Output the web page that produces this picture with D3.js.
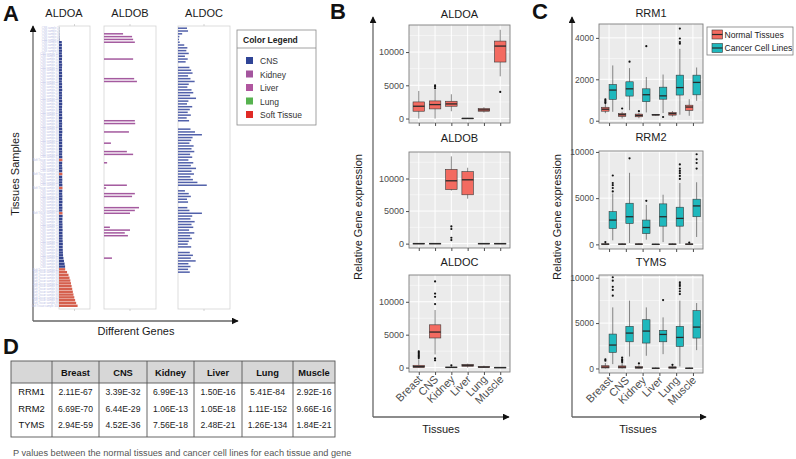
<!DOCTYPE html>
<html>
<head>
<meta charset="utf-8">
<script src="https://cdn.jsdelivr.net/npm/d3@7"></script>
<style>
  body { margin: 0; background: #fff; }
  svg { font-family: "Liberation Sans", Arial, sans-serif; }
</style>
</head>
<body>
<svg id="fig" width="796" height="459"></svg>
<script>
// ===================== DATA =====================

const tissues = ["Breast", "CNS", "Kidney", "Liver", "Lung", "Muscle"];

// Panel A: expression per sample row (sorted on ALDOA)
const aldoaValues = [
  80, 100, 120, 150, 200,
  1350, 1420, 1380, 1460, 1400, 1500, 1440, 1380, 1520, 1460,
  1410, 1480, 1530, 1450, 1390, 1500, 1470, 1550, 1420, 1490,
  1440, 1510, 1560, 1480, 1430, 1520, 1500, 1570, 1460, 1530,
  1480, 1550, 1600, 1510, 1470, 1560, 1530, 1590, 1500, 1570,
  1520, 1600, 1640, 1550, 1510, 1590, 1570, 1630, 1540, 1610,
  1560, 1640, 1680, 1600, 1560, 1650, 1620, 1680, 1590, 1660,
  1620, 1700, 1740, 1660, 1630, 1710, 1690, 1760, 1680, 1750,
  1730, 1800, 1850, 1790, 1840, 1900, 1960,
  2150, 2400, 2700, 2950,
  3000, 3900, 4600, 5100, 5500, 5800, 6100, 6400, 6700, 7000, 7400, 7800, 8300, 9000
];
const aldoaSoftTissueRows = [47, 52, 57, 66, 86, 87, 88, 89, 90, 91, 92, 93, 94, 95, 96, 97, 98, 99];

const aldobRows   = [2, 3, 4, 5, 11, 18, 19, 33, 34, 37, 41, 44, 45, 48, 56, 57, 59, 60, 64, 65, 66, 71, 72, 73, 74, 82];
const aldobValues = [5500, 8100, 8400, 8900, 8400, 8700, 9500, 8900, 9000, 7200, 2000, 6600, 8400, 900, 6600, 600,
                     8900, 8100, 10100, 8900, 7500, 1700, 7500, 6000, 6900, 2300];

const aldocValues = [
  2600, 2900, 1200, 400, 300, 500, 1800, 2700, 2400, 3100,
  2000, 2800, 2200, 0,
  3300, 3800, 4200, 2900, 3600, 4800, 3100, 2700, 3900, 4400,
  3500, 5200, 3000, 2600, 4100, 3400, 2800, 3700, 2500, 3200,
  0, 0,
  3600, 4900, 6900, 4200, 3800, 3300, 4500, 3900, 4700, 3500,
  4100, 3000, 4400, 3700, 5200, 3900, 4600, 3600, 4300, 5600, 8300,
  0, 2000,
  3100, 3700, 2600, 2900, 0,
  2700, 3300, 6900, 4100, 3600, 4800, 3900, 4400, 3200, 4700,
  3500, 4000, 3100, 2800, 3800, 0,
  3400, 4300, 3700, 5100, 3000, 3600, 2900, 3400,
  0, 0, 0, 0, 0, 0, 0, 0, 0, 0, 0, 0
];

const legendTissues = ["CNS", "Kidney", "Liver", "Lung", "Soft Tissue"];
const legendColors  = ["#2f4496", "#a4559e", "#b0569f", "#56b24f", "#e02a26"];

// Panel B and C: box statistics [low whisker, q1, median, q3, high whisker]
const aldoaStats = [[0, 1100, 1850, 2500, 4150], [0, 1450, 2100, 2650, 4300], [1100, 1850, 2200, 2600, 3650],
                    [0, 0, 20, 50, 100], [900, 1100, 1300, 1500, 1700], [6350, 8500, 10900, 11650, 13350]];
const aldoaOutliers = [[], [4550, 4800, 5000], [], [], [], [4000]];

const aldobStats = [[0, 0, 10, 30, 60], [0, 0, 10, 30, 60], [8150, 8300, 9650, 11400, 13400],
                    [6900, 7500, 9800, 11050, 11650], [0, 0, 10, 30, 60], [0, 0, 10, 30, 60]];
const aldobOutliers = [[], [], [550, 900, 2250, 2650], [], [], []];

const aldocStats = [[0, 0, 150, 350, 1250], [2000, 4500, 5400, 6500, 8750], [0, 0, 30, 80, 200],
                    [0, 200, 350, 450, 600], [0, 20, 80, 150, 300], [0, 0, 10, 30, 60]];
const aldocOutliers = [[1450, 1650, 1850, 2050, 2250, 2450], [1100, 1400, 9650, 10750, 11250, 13100], [350], [], [], []];

const rrm1NormalStats = [[365, 460, 556, 650, 800], [110, 210, 290, 350, 430], [120, 190, 255, 320, 380],
                         [250, 270, 285, 300, 320], [200, 270, 340, 400, 465], [240, 500, 660, 750, 1040]];
const rrm1NormalOutliers = [[850, 900, 960, 1030], [590], [460], [], [], []];
const rrm1CancerStats = [[430, 1030, 1480, 1750, 2670], [510, 1190, 1540, 1880, 2540], [400, 920, 1255, 1540, 2110],
                         [370, 1040, 1200, 1620, 2230], [290, 1240, 1600, 2200, 3470], [960, 1250, 1850, 2200, 2570]];
const rrm1CancerOutliers = [[], [2850], [3600], [180], [3720, 3800, 3970, 4450], []];

const rrm2NormalStats = [[0, 0, 20, 60, 150], [0, 0, 20, 50, 120], [0, 0, 20, 60, 130],
                         [0, 0, 10, 30, 60], [0, 0, 20, 50, 100], [0, 0, 20, 50, 120]];
const rrm2NormalOutliers = [[250], [], [], [], [], [200]];
const rrm2CancerStats = [[440, 1720, 2630, 3540, 5500], [150, 2260, 2990, 4450, 7740], [510, 1170, 1825, 2630, 4270],
                         [250, 1970, 2990, 4380, 5370], [70, 1970, 2810, 4020, 6640], [800, 2990, 4160, 4890, 6720]];
const rrm2CancerOutliers = [[5730, 6100, 6400, 6640, 7450], [9310], [4710], [], [7080, 7400, 7700, 7950, 8200, 8650],
                            [8200, 8800, 9200, 9750]];

const tymsNormalStats = [[0, 50, 150, 300, 600], [0, 50, 150, 280, 600], [0, 30, 100, 200, 350],
                         [0, 0, 20, 50, 100], [0, 30, 100, 180, 300], [0, 0, 20, 50, 100]];
const tymsNormalOutliers = [[850, 1000], [700, 850, 1000, 1200], [550], [], [400], []];
const tymsCancerStats = [[480, 1770, 2580, 3790, 6730], [1320, 2940, 3900, 4640, 7470], [1400, 2800, 4120, 5370, 6730],
                         [1580, 2940, 3750, 4200, 5630], [220, 2430, 3420, 4640, 7470], [2020, 3350, 4560, 6370, 7210]];
const tymsCancerOutliers = [[8020, 8650, 9000, 9680, 10050], [], [], [7540], [8200, 8500, 8800, 9100, 9300, 9500], []];

// Panel D: p values
const pvalGenes = ["RRM1", "RRM2", "TYMS"];
const pvalRRM1 = ["2.11E-67", "3.39E-32", "6.99E-13", "1.50E-16", "5.41E-84", "2.92E-16"];
const pvalRRM2 = ["6.69E-70", "6.44E-29", "1.06E-13", "1.05E-18", "1.11E-152", "9.66E-16"];
const pvalTYMS = ["2.94E-59", "4.52E-36", "7.56E-18", "2.48E-21", "1.26E-134", "1.84E-21"];

// ===================== SETUP =====================

const svg = d3.select('#fig');
const RED = '#f36b61';
const TEAL = '#1fb8bd';

svg.append('defs').append('marker')
  .attr('id', 'arrowhead').attr('viewBox', '0 0 10 10')
  .attr('refX', 9).attr('refY', 5)
  .attr('markerWidth', 7).attr('markerHeight', 7)
  .attr('markerUnits', 'userSpaceOnUse').attr('orient', 'auto')
  .append('path').attr('d', 'M0,0L10,5L0,10z').attr('fill', '#111');

function arrowAxes(cx, cy, top, right) {
  [[cx, cy, cx, top], [cx, cy, right, cy]].forEach(([x1, y1, x2, y2]) => {
    svg.append('line').attr('x1', x1).attr('y1', y1).attr('x2', x2).attr('y2', y2)
      .attr('stroke', '#666').attr('stroke-width', 1.3).attr('marker-end', 'url(#arrowhead)');
  });
}

function label(text, x, y, opts = {}) {
  const t = svg.append('text').attr('x', x).attr('y', y).text(text)
    .attr('font-size', opts.size || 11)
    .attr('fill', opts.fill || '#1a1a1a')
    .attr('text-anchor', opts.anchor || 'middle');
  if (opts.bold) t.attr('font-weight', 'bold');
  if (opts.rotate) t.attr('transform', `rotate(${opts.rotate},${x},${y})`);
  return t;
}

// ===================== PANEL A =====================

label('A', 3, 21, { size: 22, bold: true, anchor: 'start', fill: '#111' });
arrowAxes(33, 321, 26, 238);
label('Tissues Samples', 19, 174, { rotate: -90 });
label('Different Genes', 136, 335);

const rowY = d3.scaleBand().domain(d3.range(aldoaValues.length)).range([27, 307]).paddingInner(0.14);

function strip(x0, x1, title, rows, values, colorOf, thin) {
  const x = d3.scaleLinear().domain([0, 15000]).range([x0, x1]);
  label(title, (title === 'ALDOA' ? 64 : (x0 + x1) / 2), 17);
  svg.append('rect').attr('x', x0).attr('y', 26).attr('width', x1 - x0).attr('height', 283)
    .attr('fill', 'none').attr('stroke', '#d4d4d4').attr('stroke-width', 0.8);
  [26, 309].forEach((yy, k) => {
    svg.append('line').attr('x1', x(7500)).attr('x2', x(7500))
      .attr('y1', yy).attr('y2', k ? yy + 2 : yy - 2).attr('stroke', '#bbb').attr('stroke-width', 0.6);
  });
  const bh = thin ? 1.5 : rowY.bandwidth();
  svg.append('g').selectAll('rect')
    .data(rows.map((r, i) => ({ r, v: values[i] })).filter(d => d.v > 0))
    .join('rect')
    .attr('x', x0)
    .attr('y', d => rowY(d.r) + (rowY.bandwidth() - bh) / 2)
    .attr('width', d => x(d.v) - x0)
    .attr('height', bh)
    .attr('fill', d => colorOf(d.r));
}

// faint sample names left of the ALDOA strip
svg.append('g').selectAll('text')
  .data(aldoaValues.map((v, i) => i))
  .join('text')
  .attr('x', 58.5)
  .attr('y', i => rowY(i) + rowY.bandwidth())
  .attr('text-anchor', 'end')
  .attr('font-size', 2.6)
  .attr('fill', '#b9bde6')
  .text(i => (aldoaSoftTissueRows.includes(i) ? 'Soft Tissue sample ' : 'CNS sample ') + (i + 1));

strip(59, 90, 'ALDOA', d3.range(aldoaValues.length), aldoaValues,
  r => aldoaSoftTissueRows.includes(r) ? '#d5604e' : '#34448f', false);
strip(104, 156, 'ALDOB', aldobRows, aldobValues, () => '#a45a9f', true);
strip(178, 230, 'ALDOC', d3.range(aldocValues.length), aldocValues, () => '#5261aa', true);

// colour legend
const lg = svg.append('g');
lg.append('rect').attr('x', 237).attr('y', 30).attr('width', 79).attr('height', 95)
  .attr('fill', '#fff').attr('stroke', '#8a8a8a').attr('stroke-width', 0.8);
lg.append('line').attr('x1', 237).attr('x2', 316).attr('y1', 48).attr('y2', 48)
  .attr('stroke', '#8a8a8a').attr('stroke-width', 0.8);
lg.append('text').attr('x', 243).attr('y', 43).attr('font-size', 8.5).attr('font-weight', 'bold')
  .attr('fill', '#222').text('Color Legend');
legendTissues.forEach((t, i) => {
  const yy = 61 + i * 13.5;
  lg.append('rect').attr('x', 246).attr('y', yy - 4).attr('width', 7).attr('height', 7).attr('fill', legendColors[i]);
  lg.append('text').attr('x', 260).attr('y', yy + 3).attr('font-size', 8.5).attr('fill', '#333').text(t);
});

// ===================== PANELS B & C =====================

function boxPanel(o) {
  const g = svg.append('g');
  const x = d3.scalePoint().domain(tissues).range([o.x0, o.x1]).padding(0.6);
  const y = d3.scaleLinear().domain(o.domain).range([o.y1, o.y0]);
  const w = o.x1 - o.x0, h = o.y1 - o.y0;

  label(o.title, (o.x0 + o.x1) / 2, o.titleY);

  g.append('rect').attr('x', o.x0).attr('y', o.y0).attr('width', w).attr('height', h).attr('fill', '#ebebeb');

  const step = o.ticks[1] - o.ticks[0];
  const minors = d3.range(o.ticks[0] - step / 2, o.domain[1], step).filter(v => v > o.domain[0]);
  g.selectAll('.minor').data(minors).join('line')
    .attr('x1', o.x0).attr('x2', o.x1).attr('y1', d => y(d)).attr('y2', d => y(d))
    .attr('stroke', '#fff').attr('stroke-width', 0.5);
  g.selectAll('.major').data(o.ticks).join('line')
    .attr('x1', o.x0).attr('x2', o.x1).attr('y1', d => y(d)).attr('y2', d => y(d))
    .attr('stroke', '#fff').attr('stroke-width', 1);
  g.selectAll('.vgrid').data(tissues).join('line')
    .attr('x1', d => x(d)).attr('x2', d => x(d)).attr('y1', o.y0).attr('y2', o.y1)
    .attr('stroke', '#fff').attr('stroke-width', 1);

  o.series.forEach(s => {
    const bw = s.width;
    const box = g.append('g').selectAll('g').data(s.stats).join('g')
      .attr('transform', (d, i) => `translate(${x(tissues[i]) + s.offset},0)`);
    box.append('line').attr('y1', d => y(d[0])).attr('y2', d => y(d[4]))
      .attr('stroke', '#3a3a3a').attr('stroke-width', 0.6);
    box.append('rect').attr('x', -bw / 2).attr('width', bw)
      .attr('y', d => y(d[3]))
      .attr('height', d => Math.max(y(d[1]) - y(d[3]), 0.6))
      .attr('fill', s.color).attr('stroke', '#3a3a3a').attr('stroke-width', 0.6);
    box.append('line').attr('x1', -bw / 2).attr('x2', bw / 2)
      .attr('y1', d => y(d[2])).attr('y2', d => y(d[2]))
      .attr('stroke', '#2a2a2a').attr('stroke-width', 1.3);
    box.each(function (d, i) {
      d3.select(this).selectAll('circle').data(s.outliers[i]).join('circle')
        .attr('cx', 0).attr('cy', v => y(v)).attr('r', 1.1).attr('fill', '#111');
    });
  });

  g.append('rect').attr('x', o.x0).attr('y', o.y0).attr('width', w).attr('height', h)
    .attr('fill', 'none').attr('stroke', '#7d7d7d').attr('stroke-width', 0.9);

  const ya = g.append('g').attr('transform', `translate(${o.x0},0)`)
    .call(d3.axisLeft(y).tickValues(o.ticks).tickSize(3).tickPadding(2).tickFormat(d3.format('d')));
  ya.select('.domain').remove();
  ya.selectAll('line').attr('stroke', '#4d4d4d');
  ya.selectAll('text').attr('font-size', o.tickSize).attr('fill', '#4d4d4d')
    .attr('font-family', '"Liberation Sans", Arial, sans-serif');

  const xa = g.append('g').attr('transform', `translate(0,${o.y1})`)
    .call(d3.axisBottom(x).tickSize(3).tickFormat(''));
  xa.select('.domain').remove();
  xa.selectAll('line').attr('stroke', '#4d4d4d');

  if (o.showX) {
    g.selectAll('.xlab').data(tissues).join('text')
      .attr('text-anchor', 'end')
      .attr('font-size', 11).attr('fill', '#4d4d4d')
      .attr('transform', d => `translate(${x(d) + 4},${o.y1 + 8}) rotate(-45)`)
      .text(d => d);
  }
}

// Panel B
label('B', 330, 19, { size: 22, bold: true, anchor: 'start', fill: '#111' });
arrowAxes(373, 417, 17, 509);
label('Relative Gene expression', 362, 217, { rotate: -90 });
label('Tissues', 441, 433);

const bDomain = [-670, 14070];
const bTicks = [0, 5000, 10000];
const redSeries = (stats, outliers) => [{ stats, outliers, color: RED, offset: 0, width: 11.5 }];
boxPanel({ title: 'ALDOA', titleY: 18, x0: 409, x1: 510, y0: 25, y1: 123, domain: bDomain, ticks: bTicks,
  tickSize: 9, series: redSeries(aldoaStats, aldoaOutliers) });
boxPanel({ title: 'ALDOB', titleY: 142, x0: 409, x1: 510, y0: 152, y1: 248, domain: bDomain, ticks: bTicks,
  tickSize: 9, series: redSeries(aldobStats, aldobOutliers) });
boxPanel({ title: 'ALDOC', titleY: 266, x0: 409, x1: 510, y0: 275, y1: 372, domain: bDomain, ticks: bTicks,
  tickSize: 9, series: redSeries(aldocStats, aldocOutliers), showX: true });

// Panel C
label('C', 532, 19, { size: 22, bold: true, anchor: 'start', fill: '#111' });
arrowAxes(572, 417, 17, 706);
label('Relative Gene expression', 561, 217, { rotate: -90 });
label('Tissues', 638, 433);

const pair = (ns, no, cs, co) => [
  { stats: ns, outliers: no, color: RED, offset: -3.7, width: 7.4 },
  { stats: cs, outliers: co, color: TEAL, offset: 3.7, width: 7.4 }
];
boxPanel({ title: 'RRM1', titleY: 17, x0: 599, x1: 703, y0: 24, y1: 123, domain: [-110, 4670], ticks: [0, 2000, 4000],
  tickSize: 8.5, series: pair(rrm1NormalStats, rrm1NormalOutliers, rrm1CancerStats, rrm1CancerOutliers) });
boxPanel({ title: 'RRM2', titleY: 141, x0: 599, x1: 703, y0: 151, y1: 249, domain: [-500, 10100], ticks: [0, 5000, 10000],
  tickSize: 8.5, series: pair(rrm2NormalStats, rrm2NormalOutliers, rrm2CancerStats, rrm2CancerOutliers) });
boxPanel({ title: 'TYMS', titleY: 266, x0: 599, x1: 703, y0: 275, y1: 373, domain: [-500, 10300], ticks: [0, 5000, 10000],
  tickSize: 8.5, series: pair(tymsNormalStats, tymsNormalOutliers, tymsCancerStats, tymsCancerOutliers), showX: true });

// legend of panel C
const cl = svg.append('g');
cl.append('rect').attr('x', 707).attr('y', 27).attr('width', 86).attr('height', 28)
  .attr('fill', '#fff').attr('stroke', '#7d7d7d').attr('stroke-width', 0.8);
[['Normal Tissues', RED], ['Cancer Cell Lines', TEAL]].forEach(([name, col], i) => {
  const yy = 34.5 + i * 13.5;
  cl.append('rect').attr('x', 712).attr('y', yy - 4.5).attr('width', 10.5).attr('height', 9)
    .attr('fill', col).attr('stroke', '#3a3a3a').attr('stroke-width', 0.6);
  cl.append('line').attr('x1', 712).attr('x2', 722.5).attr('y1', yy).attr('y2', yy)
    .attr('stroke', '#2a2a2a').attr('stroke-width', 1.2);
  cl.append('text').attr('x', 724.5).attr('y', yy + 3).attr('font-size', 8.6).attr('fill', '#222').text(name);
});

// ===================== PANEL D =====================

label('D', 3, 354, { size: 22, bold: true, anchor: 'start', fill: '#111' });

const colEdges = [11, 52, 99, 147, 194, 242, 293, 335];
const tTop = 361, tHead = 383, tBottom = 437;
const tg = svg.append('g');
tg.append('rect').attr('x', colEdges[0]).attr('y', tTop).attr('width', colEdges[7] - colEdges[0]).attr('height', tHead - tTop)
  .attr('fill', '#d7d7d7');
tg.append('rect').attr('x', colEdges[0]).attr('y', tTop).attr('width', colEdges[7] - colEdges[0]).attr('height', tBottom - tTop)
  .attr('fill', 'none').attr('stroke', '#555').attr('stroke-width', 0.9);
tg.append('line').attr('x1', colEdges[0]).attr('x2', colEdges[7]).attr('y1', tHead).attr('y2', tHead)
  .attr('stroke', '#555').attr('stroke-width', 0.9);
tg.selectAll('.vsep').data(colEdges.slice(1, -1)).join('line')
  .attr('x1', d => d).attr('x2', d => d).attr('y1', tTop).attr('y2', tBottom)
  .attr('stroke', '#555').attr('stroke-width', 0.9);

const colMid = i => (colEdges[i] + colEdges[i + 1]) / 2;
tissues.forEach((t, i) => {
  tg.append('text').attr('x', colMid(i + 1)).attr('y', 375.5).attr('text-anchor', 'middle')
    .attr('font-size', 9.3).attr('font-weight', 'bold').attr('fill', '#111').text(t);
});
[pvalRRM1, pvalRRM2, pvalTYMS].forEach((row, r) => {
  const yy = 395 + r * 16.5;
  tg.append('text').attr('x', colMid(0)).attr('y', yy).attr('text-anchor', 'middle')
    .attr('font-size', 9.4).attr('fill', '#111').text(pvalGenes[r]);
  row.forEach((v, i) => {
    tg.append('text').attr('x', colMid(i + 1)).attr('y', yy).attr('text-anchor', 'middle')
      .attr('font-size', 8.6).attr('fill', '#222').text(v);
  });
});

svg.append('text').attr('x', 13).attr('y', 456).attr('font-size', 9.2).attr('fill', '#555')
  .text('P values between the normal tissues and cancer cell lines for each tissue and gene');
</script>
</body>
</html>
